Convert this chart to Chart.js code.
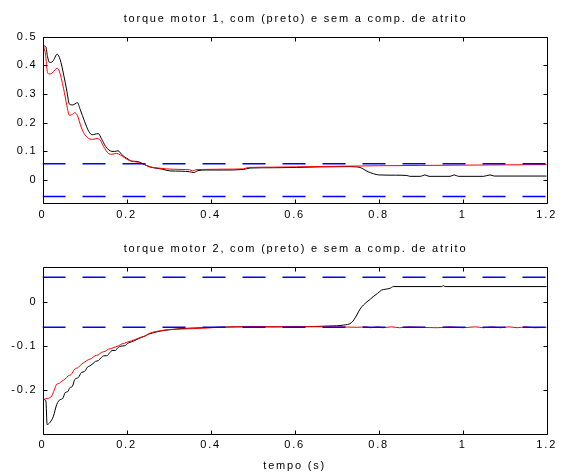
<!DOCTYPE html>
<html><head><meta charset="utf-8">
<script src="https://cdn.jsdelivr.net/npm/chart.js@4.4.1/dist/chart.umd.min.js"></script>
<style>
html,body{margin:0;padding:0;background:#fff;}
#w{position:relative;width:563px;height:473px;overflow:hidden;}
#c1{position:absolute;left:0;top:0;}
#c2{position:absolute;left:0;top:230px;}
</style></head><body>
<div id="w"><canvas id="c1" width="563" height="230"></canvas><canvas id="c2" width="563" height="243"></canvas></div>
<script>
// ---------- data ----------
const title1 = 'torque motor 1, com (preto) e sem a comp. de atrito';
const title2 = 'torque motor 2, com (preto) e sem a comp. de atrito';
const xLabel = 'tempo (s)';
const xTicks = [0, 0.2, 0.4, 0.6, 0.8, 1, 1.2];
const yTicks1 = [0, 0.1, 0.2, 0.3, 0.4, 0.5];
const yTicks2 = [-0.2, -0.1, 0];
const frictionLimit = 0.057;

// motor 1 with compensation (black)
const m1Com = [[0.003,0.468],[0.008,0.465],[0.012,0.43],[0.017,0.41],[0.025,0.415],[0.035,0.439],[0.042,0.42],[0.05,0.37],[0.058,0.31],[0.064,0.265],[0.072,0.262],[0.083,0.27],[0.09,0.245],[0.1,0.205],[0.11,0.17],[0.118,0.158],[0.125,0.16],[0.133,0.162],[0.14,0.145],[0.15,0.118],[0.158,0.105],[0.165,0.1],[0.172,0.1],[0.18,0.102],[0.188,0.09],[0.196,0.08],[0.204,0.073],[0.212,0.066],[0.225,0.065],[0.24,0.056],[0.255,0.046],[0.268,0.042],[0.285,0.038],[0.303,0.032],[0.33,0.031],[0.35,0.029],[0.36,0.026],[0.37,0.033],[0.39,0.035],[0.43,0.035],[0.478,0.037],[0.494,0.042],[0.55,0.043],[0.605,0.044],[0.66,0.046],[0.732,0.047],[0.745,0.046],[0.756,0.044],[0.765,0.037],[0.775,0.029],[0.788,0.022],[0.8,0.018],[0.84,0.017],[0.867,0.016],[0.875,0.013],[0.9,0.013],[0.91,0.018],[0.92,0.013],[0.97,0.013],[0.98,0.018],[0.99,0.013],[1.05,0.013],[1.065,0.018],[1.075,0.014],[1.2,0.014]];
// motor 1 without compensation (red)
const m1Sem = [[0.003,0.465],[0.007,0.44],[0.012,0.375],[0.016,0.37],[0.022,0.372],[0.03,0.385],[0.035,0.39],[0.04,0.38],[0.05,0.32],[0.058,0.26],[0.064,0.226],[0.07,0.228],[0.077,0.235],[0.083,0.225],[0.092,0.185],[0.1,0.16],[0.113,0.143],[0.12,0.142],[0.13,0.145],[0.137,0.14],[0.145,0.118],[0.158,0.092],[0.165,0.09],[0.176,0.093],[0.185,0.088],[0.195,0.078],[0.204,0.07],[0.215,0.065],[0.228,0.062],[0.24,0.056],[0.256,0.046],[0.275,0.042],[0.295,0.039],[0.33,0.037],[0.35,0.036],[0.357,0.032],[0.365,0.036],[0.38,0.037],[0.43,0.038],[0.478,0.039],[0.49,0.044],[0.55,0.045],[0.6,0.046],[0.7,0.048],[0.8,0.05],[0.9,0.051],[1.0,0.052],[1.2,0.054]];
// motor 2 with compensation (black)
const m2Com = [[0.003,-0.222],[0.008,-0.225],[0.011,-0.279],[0.018,-0.274],[0.026,-0.26],[0.034,-0.233],[0.042,-0.222],[0.048,-0.22],[0.054,-0.206],[0.06,-0.204],[0.065,-0.195],[0.071,-0.192],[0.077,-0.176],[0.085,-0.172],[0.093,-0.16],[0.1,-0.158],[0.107,-0.148],[0.113,-0.145],[0.12,-0.14],[0.126,-0.135],[0.133,-0.133],[0.14,-0.126],[0.146,-0.122],[0.153,-0.122],[0.16,-0.115],[0.166,-0.11],[0.173,-0.11],[0.18,-0.103],[0.187,-0.1],[0.196,-0.099],[0.204,-0.093],[0.212,-0.09],[0.22,-0.087],[0.228,-0.083],[0.236,-0.08],[0.244,-0.077],[0.252,-0.073],[0.27,-0.068],[0.29,-0.064],[0.31,-0.062],[0.33,-0.06],[0.35,-0.059],[0.38,-0.058],[0.42,-0.057],[0.46,-0.056],[0.5,-0.056],[0.6,-0.056],[0.684,-0.054],[0.716,-0.052],[0.736,-0.046],[0.748,-0.029],[0.756,-0.015],[0.764,-0.006],[0.772,0.001],[0.78,0.007],[0.787,0.013],[0.797,0.02],[0.807,0.028],[0.817,0.03],[0.827,0.032],[0.835,0.036],[0.95,0.036],[0.954,0.038],[0.958,0.036],[1.2,0.036]];
// motor 2 without compensation (red)
const m2Sem = [[0.003,-0.222],[0.008,-0.22],[0.014,-0.219],[0.022,-0.214],[0.028,-0.2],[0.034,-0.187],[0.04,-0.185],[0.046,-0.18],[0.053,-0.176],[0.061,-0.168],[0.068,-0.165],[0.077,-0.152],[0.085,-0.149],[0.093,-0.141],[0.101,-0.136],[0.109,-0.131],[0.117,-0.128],[0.125,-0.122],[0.133,-0.12],[0.141,-0.114],[0.149,-0.112],[0.157,-0.107],[0.165,-0.105],[0.173,-0.102],[0.181,-0.099],[0.189,-0.095],[0.196,-0.093],[0.204,-0.09],[0.212,-0.088],[0.22,-0.085],[0.228,-0.082],[0.236,-0.079],[0.244,-0.077],[0.252,-0.072],[0.264,-0.068],[0.28,-0.065],[0.303,-0.062],[0.33,-0.061],[0.36,-0.06],[0.383,-0.059],[0.42,-0.057],[0.462,-0.056],[0.5,-0.055],[0.55,-0.056],[0.6,-0.055],[0.66,-0.056],[0.7,-0.056],[0.75,-0.057],[0.77,-0.056],[0.78,-0.058],[0.8,-0.056],[0.81,-0.058],[0.83,-0.056],[0.85,-0.058],[0.87,-0.056],[0.9,-0.057],[0.94,-0.058],[0.97,-0.056],[1.0,-0.058],[1.03,-0.056],[1.05,-0.058],[1.07,-0.056],[1.09,-0.058],[1.11,-0.056],[1.13,-0.058],[1.15,-0.056],[1.17,-0.058],[1.2,-0.057]];

// ---------- rendering ----------
const FONT = {family:'"Liberation Sans", Arial, sans-serif', size:11, weight:'normal'};
const LS = '1.8px';
const toXY = a => a.map(p => ({x:p[0], y:p[1]}));
const fmt = v => (Math.abs(v) < 1e-9 ? '0' : String(+v.toFixed(2)));

const spacing = {
  id:'spacing',
  beforeDraw(chart){ chart.ctx.letterSpacing = LS; }
};
const frame = {
  id:'frame',
  afterDatasetsDraw(chart){
    const {ctx, chartArea:a, scales:{x, y}} = chart;
    ctx.save();
    ctx.strokeStyle = '#000';
    ctx.lineWidth = 1;
    const L = Math.round(a.left)+0.5, R = Math.round(a.right)+0.5, T = Math.round(a.top)+0.5, B = Math.round(a.bottom)+0.5;
    ctx.beginPath();
    ctx.rect(L, T, R-L, B-T);
    const tl = 4;
    x.ticks.forEach(t => {
      const px = Math.round(x.getPixelForValue(t.value))+0.5;
      ctx.moveTo(px, B); ctx.lineTo(px, B-tl);
      ctx.moveTo(px, T); ctx.lineTo(px, T+tl);
    });
    y.ticks.forEach(t => {
      const py = Math.round(y.getPixelForValue(t.value))+0.5;
      ctx.moveTo(L, py); ctx.lineTo(L+tl, py);
      ctx.moveTo(R, py); ctx.lineTo(R-tl, py);
    });
    ctx.stroke();
    // plot title centred over the plot area
    const txt = chart.options.plotTitle;
    ctx.letterSpacing = LS;
    ctx.font = FONT.size + 'px ' + FONT.family;
    ctx.fillStyle = '#000';
    ctx.textBaseline = 'middle';
    ctx.textAlign = 'left';
    const w = ctx.measureText(txt).width - parseFloat(LS);
    ctx.fillText(txt, (a.left + a.right)/2 - w/2, 19);
    ctx.restore();
  }
};

function makeChart(id, title, black, red, yMin, yMax, yTicks, topPad, xAxisH, withXLabel){
  const limitLine = v => ({
    data: [{x:0, y:v}, {x:1.2, y:v}],
    borderColor:'#0000ff', borderWidth:1.5, borderDash:[23,17], pointRadius:0, order:0, tension:0
  });
  return new Chart(document.getElementById(id), {
    type:'line',
    data:{datasets:[
      {data: toXY(black), borderColor:'#000000', borderWidth:1, pointRadius:0, order:2, cubicInterpolationMode:'monotone'},
      {data: toXY(red), borderColor:'#ff0000', borderWidth:1, pointRadius:0, order:1, cubicInterpolationMode:'monotone'},
      limitLine(frictionLimit),
      limitLine(-frictionLimit)
    ]},
    options:{
      plotTitle: title,
      responsive:false, animation:false, events:[],
      layout:{padding:{left:0, right:16.3, top:topPad, bottom:0}},
      plugins:{ legend:{display:false}, tooltip:{enabled:false}, title:{display:false} },
      scales:{
        x:{type:'linear', min:0, max:1.2,
           afterBuildTicks: s => { s.ticks = xTicks.map(v => ({value:v})); },
           afterFit: s => { s.height = xAxisH; },
           grid:{display:false, drawTicks:false}, border:{display:false},
           ticks:{color:'#000', font:FONT, padding:5, maxRotation:0, autoSkip:false, callback: v => fmt(v)},
           title:{display:withXLabel, text:xLabel, color:'#000', font:FONT, padding:{top:0, bottom:0}}
        },
        y:{type:'linear', min:yMin, max:yMax,
           afterBuildTicks: s => { s.ticks = yTicks.map(v => ({value:v})); },
           afterFit: s => { s.width = 42.5; },
           grid:{display:false, drawTicks:false}, border:{display:false},
           ticks:{color:'#000', font:FONT, padding:5, autoSkip:false, callback: v => fmt(v)}
        }
      }
    },
    plugins:[spacing, frame]
  });
}

makeChart('c1', title1, m1Com, m1Sem, -0.08, 0.5, yTicks1, 36.7, 27, false);
makeChart('c2', title2, m2Com, m2Sem, -0.3, 0.08, yTicks2, 37.3, 39.3, true);
</script>
</body></html>
